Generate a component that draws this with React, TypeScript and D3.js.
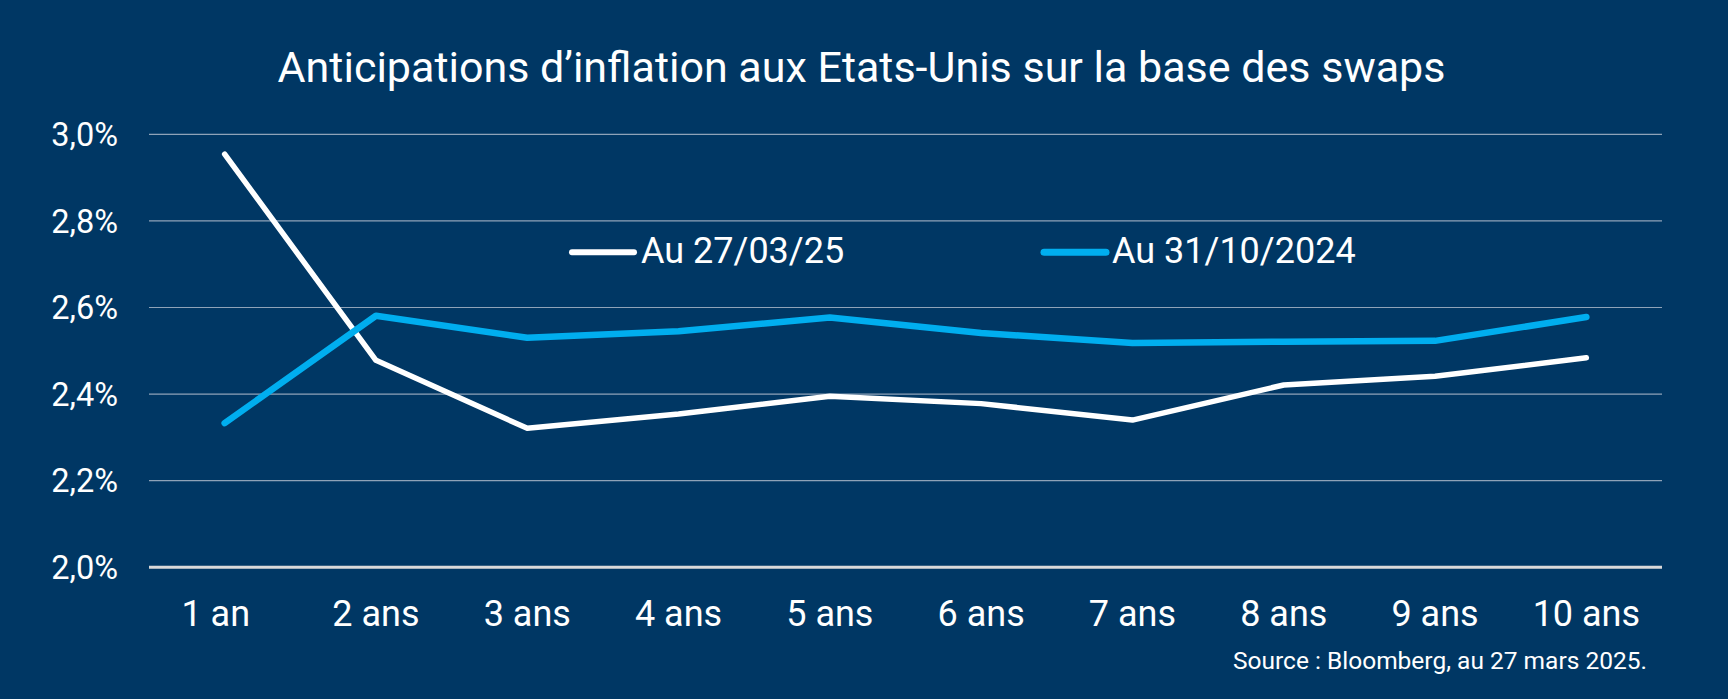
import React, { useEffect } from "react";
import * as d3 from "d3";

const categories = ["1 an", "2 ans", "3 ans", "4 ans", "5 ans", "6 ans", "7 ans", "8 ans", "9 ans", "10 ans"];
const categoryLabels = ["1 an\u00A0\u00A0", "2 ans", "3 ans", "4 ans", "5 ans", "6 ans", "7 ans", "8 ans", "9 ans", "10 ans"];
const series2025 = [2.954, 2.478, 2.321, 2.354, 2.395, 2.378, 2.34, 2.421, 2.441, 2.484];
const series2024 = [2.333, 2.581, 2.53, 2.545, 2.577, 2.541, 2.518, 2.521, 2.523, 2.578];
const yTicks = [2.0, 2.2, 2.4, 2.6, 2.8, 3.0];
const legendLabels = ["Au 27/03/25", "Au 31/10/2024"];
const titleText = "Anticipations d\u2019inflation aux Etats-Unis sur la base des swaps";
const sourceText = "Source : Bloomberg, au 27 mars 2025.";

const W = 1728;
const H = 699;
const BG = "#003764";
const WHITE = "#FFFFFF";
const BLUE = "#00AEEF";
const FONT = "Roboto, 'Noto Sans', sans-serif";

export default function App() {
  useEffect(() => {
    document.body.style.margin = "0";
    document.body.style.background = BG;
  }, []);

  const x = d3.scaleBand<string>().domain(categories).range([149, 1662]);
  const y = d3.scaleLinear().domain([2.0, 3.0]).range([567.3, 134.3]);
  const cx = (c: string) => (x(c) as number) + x.bandwidth() / 2;

  const line = d3
    .line<number>()
    .x((_, i) => cx(categories[i]))
    .y((d) => y(d));

  const fmt = (v: number) => d3.format(".1f")(v).replace(".", ",") + "%";

  const series = [
    { name: legendLabels[0], values: series2025, color: WHITE, width: 5.5, lx: 572, tx: 641 },
    { name: legendLabels[1], values: series2024, color: BLUE, width: 6.5, lx: 1044, tx: 1112 },
  ];

  return (
    <svg width={W} height={H} style={{ display: "block" }} fontFamily={FONT}>
      <rect x={0} y={0} width={W} height={H} fill={BG} />
      <text x={861.5} y={81.7} textAnchor="middle" fill={WHITE} fontSize={43}>
        {titleText}
      </text>
      {yTicks.map((t) => (
        <g key={t}>
          {t !== 2.0 && (
            <line x1={149} x2={1662} y1={y(t)} y2={y(t)} stroke="#8FA3B8" strokeWidth={1.2} />
          )}
          <text x={118} y={y(t)} dy="0.36em" textAnchor="end" fill={WHITE} fontSize={32.5}>
            {fmt(t)}
          </text>
        </g>
      ))}
      <line x1={149} x2={1662} y1={y(2.0)} y2={y(2.0)} stroke="#D9D9D9" strokeWidth={3} />
      {categories.map((c, i) => (
        <text key={c} x={cx(c)} y={626} textAnchor="middle" fill={WHITE} fontSize={36} style={{ whiteSpace: "pre" }}>
          {categoryLabels[i]}
        </text>
      ))}
      {series.map((s) => (
        <path
          key={s.name}
          d={line(s.values) as string}
          fill="none"
          stroke={s.color}
          strokeWidth={s.width}
          strokeLinecap="round"
          strokeLinejoin="round"
        />
      ))}
      {series.map((s) => (
        <g key={"lg" + s.name}>
          <line x1={s.lx} x2={s.lx + 62} y1={252.3} y2={252.3} stroke={s.color} strokeWidth={s.width + 0.5} strokeLinecap="round" />
          <text x={s.tx} y={263.3} fill={WHITE} fontSize={36}>
            {s.name}
          </text>
        </g>
      ))}
      <text x={1647} y={669.3} textAnchor="end" fill={WHITE} fontSize={24.5}>
        {sourceText}
      </text>
    </svg>
  );
}
